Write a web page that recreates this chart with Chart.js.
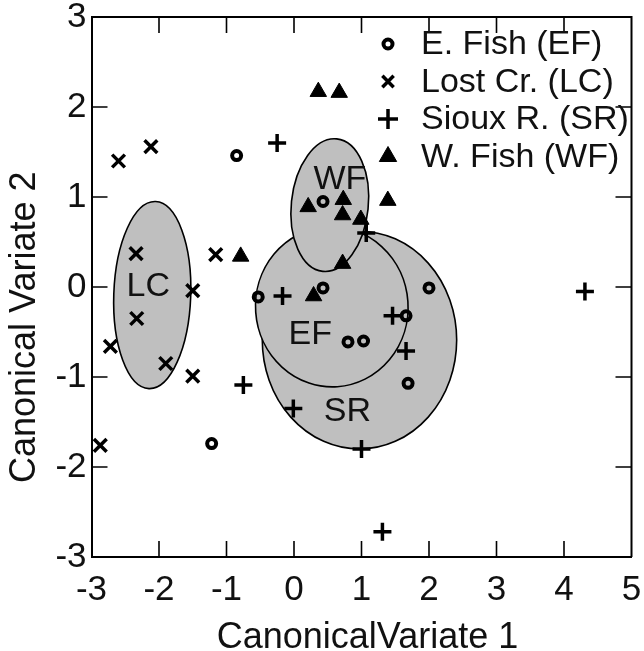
<!DOCTYPE html>
<html>
<head>
<meta charset="utf-8">
<script src="https://cdn.jsdelivr.net/npm/chart.js@4/dist/chart.umd.min.js"></script>
<style>
  html, body { margin: 0; padding: 0; background: #fff; }
  #wrap { width: 644px; height: 651px; }
</style>
</head>
<body>
<div id="wrap"><canvas id="cvaChart" width="644" height="651"></canvas></div>
<script>
// Canonical variate scores, one [cv1, cv2] pair per fish
const eastFish = [[-0.85, 1.46], [0.43, 0.95], [-0.53, -0.11], [0.43, -0.01], [0.80, -0.61],
                  [1.03, -0.60], [-1.22, -1.74], [2.00, -0.01], [1.66, -0.32], [1.69, -1.07]];
const lostCreek = [[-2.60, 1.40], [-2.12, 1.56], [-2.34, 0.37], [-1.16, 0.36], [-1.50, -0.04],
                   [-2.33, -0.35], [-2.72, -0.66], [-1.90, -0.85], [-1.50, -0.99], [-2.87, -1.76]];
const siouxRiver = [[-0.25, 1.60], [1.07, 0.60], [-0.17, -0.10], [1.46, -0.32], [1.66, -0.71],
                    [-0.75, -1.09], [-0.01, -1.35], [1.00, -1.80], [1.31, -2.72], [4.31, -0.05]];
const westFish = [[0.36, 2.17], [0.67, 2.16], [0.21, 0.89], [0.73, 0.97], [0.72, 0.80],
                  [0.99, 0.75], [0.72, 0.26], [-0.79, 0.34], [1.39, 0.96], [0.29, -0.10]];

const legendLabels = ['E. Fish (EF)', 'Lost Cr. (LC)', 'Sioux R. (SR)', 'W. Fish (WF)'];

// Group ellipses in data units (drawn in this order), tilt in degrees
const ellipseNames = ['LC', 'SR', 'EF', 'WF'];
const ellipseCx = [-2.10, 0.97, 0.56, 0.53];
const ellipseCy = [-0.09, -0.59, -0.22, 0.91];
const ellipseRx = [0.57, 1.44, 1.13, 0.57];
const ellipseRy = [1.04, 1.21, 0.89, 0.74];
const ellipseTilt = [2, 0, -4, 6];
const ellipseLabelX = [-2.16, 0.79, 0.24, 0.68];
const ellipseLabelY = [0.0, -1.39, -0.53, 1.19];

const xTicks = [-3, -2, -1, 0, 1, 2, 3, 4, 5];
const yTicks = [-3, -2, -1, 0, 1, 2, 3];

const FONT = "'Liberation Sans', Arial, Helvetica, sans-serif";
const toXY = pts => pts.map(p => ({ x: p[0], y: p[1] }));

const markerStyles = [
    { pointStyle: 'circle', radius: 4.5, borderWidth: 4, fill: 'rgba(0,0,0,0)' },
    { pointStyle: 'crossRot', radius: 9, borderWidth: 3.5, fill: '#000' },
    { pointStyle: 'cross', radius: 9, borderWidth: 3.5, fill: '#000' },
    { pointStyle: 'triangle', radius: 9.5, borderWidth: 1, fill: '#000' }
];

function makeDataset(label, pts, m) {
    return {
        label: label,
        data: toXY(pts),
        pointStyle: m.pointStyle,
        pointRadius: m.radius,
        pointHoverRadius: m.radius,
        pointBorderWidth: m.borderWidth,
        pointHoverBorderWidth: m.borderWidth,
        pointBorderColor: '#000',
        pointBackgroundColor: m.fill,
        showLine: false
    };
}

// Shaded ellipses with their two-letter tags, under the points
const ellipsePlugin = {
    id: 'groupEllipses',
    beforeDatasetsDraw(chart) {
        const { ctx, scales: { x, y } } = chart;
        ctx.save();
        ellipseNames.forEach((name, i) => {
            const cx = x.getPixelForValue(ellipseCx[i]);
            const cy = y.getPixelForValue(ellipseCy[i]);
            const rx = Math.abs(x.getPixelForValue(ellipseCx[i] + ellipseRx[i]) - cx);
            const ry = Math.abs(y.getPixelForValue(ellipseCy[i] + ellipseRy[i]) - cy);
            ctx.beginPath();
            ctx.ellipse(cx, cy, rx, ry, ellipseTilt[i] * Math.PI / 180, 0, Math.PI * 2);
            ctx.fillStyle = '#bfbfbf';
            ctx.fill();
            ctx.lineWidth = 1.6;
            ctx.strokeStyle = '#000';
            ctx.stroke();
        });
        ctx.fillStyle = '#111';
        ctx.font = '34px ' + FONT;
        ctx.textAlign = 'center';
        ctx.textBaseline = 'middle';
        ellipseNames.forEach((name, i) => {
            ctx.fillText(name, x.getPixelForValue(ellipseLabelX[i]), y.getPixelForValue(ellipseLabelY[i]));
        });

        // frame on the top and right, inward ticks on all four sides
        const area = chart.chartArea;
        const tl = 16;
        ctx.strokeStyle = '#000';
        ctx.lineWidth = 2;
        ctx.beginPath();
        ctx.moveTo(area.left, area.top);
        ctx.lineTo(area.right, area.top);
        ctx.lineTo(area.right, area.bottom);
        ctx.stroke();
        ctx.lineWidth = 1.6;
        ctx.beginPath();
        xTicks.slice(1, -1).forEach(v => {
            const px = x.getPixelForValue(v);
            ctx.moveTo(px, area.bottom); ctx.lineTo(px, area.bottom - tl);
            ctx.moveTo(px, area.top); ctx.lineTo(px, area.top + tl);
        });
        yTicks.slice(1, -1).forEach(v => {
            const py = y.getPixelForValue(v);
            ctx.moveTo(area.left, py); ctx.lineTo(area.left + tl, py);
            ctx.moveTo(area.right, py); ctx.lineTo(area.right - tl, py);
        });
        ctx.stroke();
        ctx.restore();
    }
};

// Axis titles and the marker key in the upper right
const annotatePlugin = {
    id: 'annotate',
    afterDraw(chart) {
        const { ctx, scales: { x } } = chart;
        ctx.save();
        ctx.fillStyle = '#111';
        ctx.font = '36px ' + FONT;
        ctx.textBaseline = 'alphabetic';
        ctx.textAlign = 'center';
        ctx.fillText('CanonicalVariate 1', (x.left + x.right) / 2 + 6, 648);

        ctx.translate(35, 483);
        ctx.rotate(-Math.PI / 2);
        ctx.textAlign = 'left';
        ctx.fillText('Canonical Variate 2', 0, 0);
        ctx.restore();

        ctx.save();
        ctx.font = '34px ' + FONT;
        ctx.textAlign = 'left';
        ctx.textBaseline = 'middle';
        const legendSizes = [4.5, 8, 10, 10];
        legendLabels.forEach((label, i) => {
            const rowY = 44 + i * 37.5;
            const m = markerStyles[i];
            ctx.strokeStyle = '#000';
            ctx.fillStyle = m.fill;
            ctx.lineWidth = m.borderWidth;
            Chart.helpers.drawPoint(ctx, {
                pointStyle: m.pointStyle,
                radius: legendSizes[i],
                borderWidth: m.borderWidth,
                rotation: 0
            }, 388, rowY);
            ctx.fillStyle = '#111';
            ctx.fillText(label, 421, rowY + 1);
        });
        ctx.restore();
    }
};

const axisFont = { family: FONT, size: 35 };

new Chart(document.getElementById('cvaChart'), {
    type: 'scatter',
    data: {
        datasets: [
            makeDataset(legendLabels[0], eastFish, markerStyles[0]),
            makeDataset(legendLabels[1], lostCreek, markerStyles[1]),
            makeDataset(legendLabels[2], siouxRiver, markerStyles[2]),
            makeDataset(legendLabels[3], westFish, markerStyles[3])
        ]
    },
    options: {
        responsive: false,
        animation: false,
        events: [],
        layout: { padding: { left: 0, top: 17, right: 12.5, bottom: 0 } },
        plugins: {
            legend: { display: false },
            tooltip: { enabled: false }
        },
        scales: {
            x: {
                type: 'linear',
                min: -3,
                max: 5,
                afterBuildTicks: s => { s.ticks = xTicks.map(v => ({ value: v })); },
                ticks: { color: '#111', font: axisFont, padding: 12 },
                grid: { drawOnChartArea: false, drawTicks: false },
                border: { display: true, color: '#000', width: 2 },
                afterFit: s => { s.height = 94; s.paddingLeft = 0; s.paddingRight = 0; }
            },
            y: {
                type: 'linear',
                min: -3,
                max: 3,
                afterBuildTicks: s => { s.ticks = yTicks.map(v => ({ value: v })); },
                ticks: { color: '#111', font: axisFont, padding: 5 },
                grid: { drawOnChartArea: false, drawTicks: false },
                border: { display: true, color: '#000', width: 2 },
                afterFit: s => { s.width = 91.5; s.paddingTop = 0; s.paddingBottom = 0; }
            }
        }
    },
    plugins: [ellipsePlugin, annotatePlugin]
});
</script>
</body>
</html>
